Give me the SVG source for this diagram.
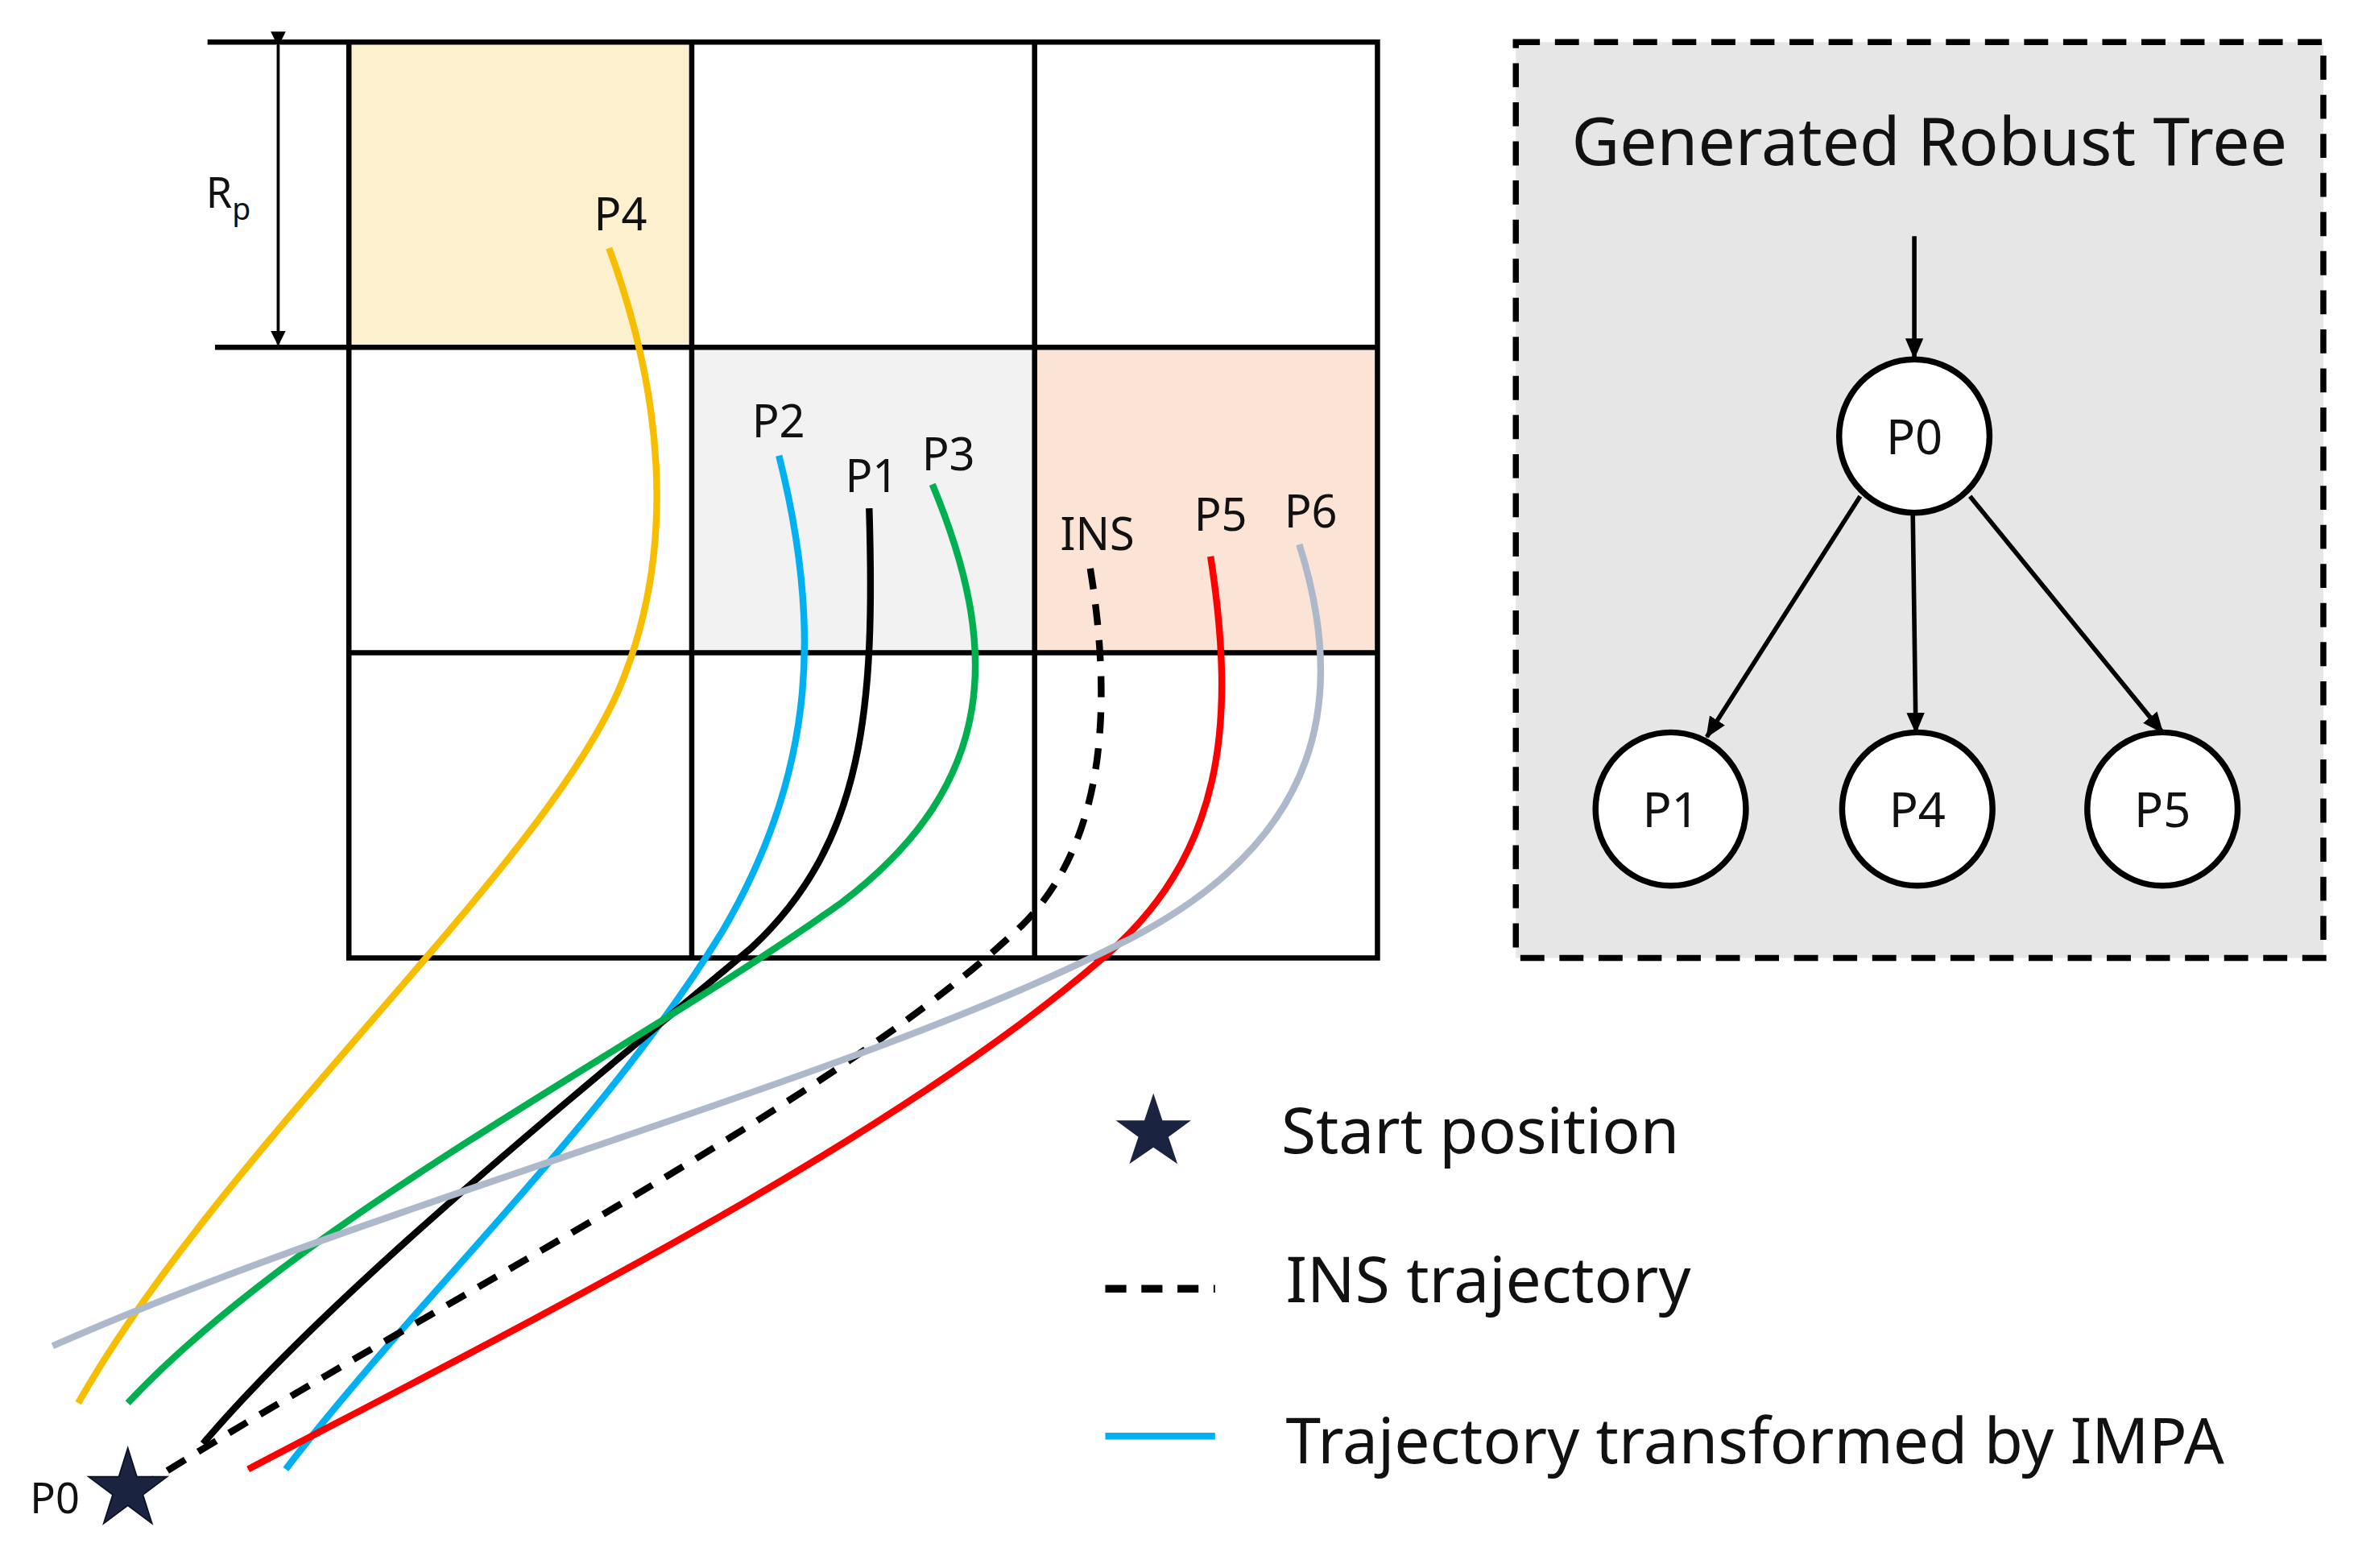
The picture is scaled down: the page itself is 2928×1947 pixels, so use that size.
<svg xmlns="http://www.w3.org/2000/svg" width="2928" height="1947" viewBox="0 0 2928 1947">
<style>
.t{font-family:"Noto Sans","DejaVu Sans",sans-serif;fill:#111}
.g{fill:none;stroke:#000;stroke-width:3.5}
.tr{fill:none;stroke-width:4.5;stroke-linecap:butt}
.n{fill:#fff;stroke:#000;stroke-width:4}
.e{fill:none;stroke:#000;stroke-width:3}
</style>
<defs>
<marker id="ah" markerWidth="10" markerHeight="10" refX="9" refY="5" orient="auto" markerUnits="userSpaceOnUse"><path d="M0,0 L10,5 L0,10 z" fill="#000"/></marker>
<marker id="ah2" markerWidth="14" markerHeight="14" refX="13" refY="7" orient="auto" markerUnits="userSpaceOnUse"><path d="M0,1 L14,7 L0,13 z" fill="#000"/></marker>
</defs>
<rect width="2928" height="1947" fill="#fff"/>
<g transform="scale(1.8673)">
<g id="grid">
<rect x="232" y="28" width="228" height="203" fill="#FDF0CF"/>
<rect x="460" y="231" width="228" height="203" fill="#F2F2F2"/>
<rect x="688" y="231" width="228" height="203" fill="#FBE3D6"/>
<path class="g" d="M138,28H916V637H232V28M143,231H916M232,434H916M460,28V637M688,28V637"/>
<line x1="185" y1="30" x2="185" y2="229" stroke="#000" stroke-width="2" marker-start="url(#ah)" marker-end="url(#ah)"/>
<text class="t" x="137" y="138" font-size="28">R<tspan font-size="20" dy="8">p</tspan></text>
</g>
<g id="connectors">
<path class="tr" stroke="#F7BE00" d="M405,165 C440,260 450,360 415,450 C370,570 150,760 52,933"/>
<path class="tr" stroke="#00B0F0" d="M518,303 C545,410 545,510 480,620 C400,750 280,860 190,977"/>
<path class="tr" stroke="#000" d="M578,338 C582,470 575,560 500,630 C380,730 220,860 135,960"/>
<path class="tr" stroke="#00B050" d="M620,322 C665,430 665,520 560,600 C420,700 200,810 85,933"/>
<path class="tr" stroke="#000" stroke-width="5" stroke-dasharray="14 10" d="M725,378 C740,470 735,560 680,615 C560,730 300,860 100,985"/>
<path class="tr" stroke="#FF0000" d="M805,370 C822,480 815,570 730,640 C590,760 350,880 165,977"/>
<path class="tr" stroke="#ADB9CA" stroke-width="5.5" d="M864,362 C895,460 885,560 740,630 C560,720 250,800 35,895"/>
</g>
<g id="labels">
<text class="t" x="395" y="153" font-size="30">P4</text>
<text class="t" x="500" y="291" font-size="30">P2</text>
<text class="t" x="562" y="327" font-size="30">P1</text>
<text class="t" x="613" y="313" font-size="30">P3</text>
<text class="t" x="705" y="366" font-size="30">INS</text>
<text class="t" x="794" y="353" font-size="30">P5</text>
<text class="t" x="854" y="351" font-size="30">P6</text>
<text class="t" x="20" y="1006" font-size="28">P0</text>
<polygon points="85,963 91,982 111,982 95,994 101,1013 85,1001 69,1013 75,994 59,982 79,982" fill="#1A2440" stroke="#0d1326" stroke-width="1"/>
</g>
<g id="legend">
<polygon points="767,727 773,745 792,745 777,756 783,774 767,763 751,774 757,756 742,745 761,745" fill="#1A2440"/>
<text class="t" x="852" y="767" font-size="42">Start position</text>
<line x1="735" y1="857" x2="808" y2="857" stroke="#000" stroke-width="5" stroke-dasharray="14 10"/>
<text class="t" x="855" y="866" font-size="42">INS trajectory</text>
<line x1="735" y1="955" x2="808" y2="955" stroke="#00B0F0" stroke-width="4.5"/>
<text class="t" x="855" y="973" font-size="42">Trajectory transformed by IMPA</text>
</g>
<g id="tree">
<rect x="1008" y="28" width="537" height="609" fill="#E7E6E6" stroke="#000" stroke-width="4" stroke-dasharray="16 10"/>
<text class="t" x="1283" y="110" font-size="44" text-anchor="middle">Generated Robust Tree</text>
</g>
<g id="edges">
<line class="e" x1="1273" y1="157" x2="1273" y2="238" marker-end="url(#ah2)"/>
<line class="e" x1="1237" y1="330" x2="1135" y2="490" marker-end="url(#ah2)"/>
<line class="e" x1="1272" y1="342" x2="1274" y2="487" marker-end="url(#ah2)"/>
<line class="e" x1="1310" y1="330" x2="1438" y2="487" marker-end="url(#ah2)"/>
</g>
<g id="nP0"><ellipse class="n" cx="1273" cy="290" rx="50" ry="51"/><text class="t" x="1273" y="302" font-size="32" text-anchor="middle">P0</text></g>
<g id="nP1"><ellipse class="n" cx="1111" cy="538" rx="50" ry="51"/><text class="t" x="1111" y="550" font-size="32" text-anchor="middle">P1</text></g>
<g id="nP4"><ellipse class="n" cx="1275" cy="538" rx="50" ry="51"/><text class="t" x="1275" y="550" font-size="32" text-anchor="middle">P4</text></g>
<g id="nP5"><ellipse class="n" cx="1438" cy="538" rx="50" ry="51"/><text class="t" x="1438" y="550" font-size="32" text-anchor="middle">P5</text></g>
</g>
</svg>
